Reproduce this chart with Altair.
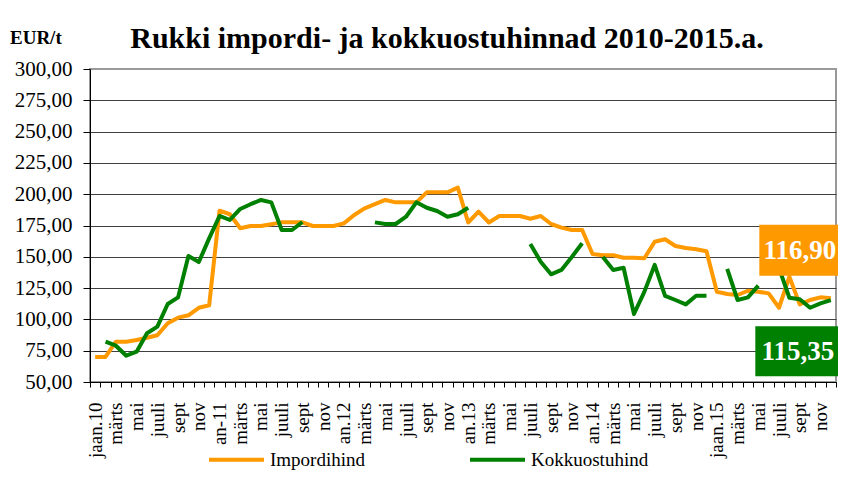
import json
import altair as alt
import pandas as pd

# ---------------- data ----------------
months = list(range(72))  # jaan.2010 ... dets.2015
tick_labels = [
    "jaan.10", "", "märts", "", "mai", "", "juuli", "", "sept", "", "nov", "",
    "an-11", "", "märts", "", "mai", "", "juuli", "", "sept", "", "nov", "",
    "an.12", "", "märts", "", "mai", "", "juuli", "", "sept", "", "nov", "",
    "an.13", "", "märts", "", "mai", "", "juuli", "", "sept", "", "nov", "",
    "an.14", "", "märts", "", "mai", "", "juuli", "", "sept", "", "nov", "",
    "jaan.15", "", "märts", "", "mai", "", "juuli", "", "sept", "", "nov", "",
]
series_names = ["Impordihind", "Kokkuostuhind"]
series_colors = ["#FF9900", "#008000"]

impordihind = [
    70, 70, 82.2, 82.2, 83.5, 85.4, 87.3, 96.9, 101.4, 103.3, 109.3, 111.3,
    186.8, 184, 172.8, 174.6, 174.6, 176, 177.5, 177.5, 177.5, 174.6, 174.6, 174.6,
    176.7, 183.4, 188.7, 192, 195.4, 193.5, 193.5, 193.5, 201.5, 201.5, 201.5, 205.2,
    177.4, 186, 177.4, 182.6, 182.6, 182.6, 180.4, 182.6, 176.2, 173.3, 171.4, 171.4,
    152.2, 151.2, 151.2, 149.3, 149.3, 148.8, 162, 164, 158.6, 157, 156, 154.4,
    122.1, 120.3, 119.5, 122.9, 122.1, 120.8, 109.3, 134.1, 112, 115.5, 117.6, 116.90,
]
kokkuostuhind = [
    None, 82.2, 79, 71, 74.2, 88.9, 94.2, 112.3, 117.6, 150.6, 145.8, 164.7,
    182.6, 179.4, 188.2, 192, 195.4, 193.5, 171.4, 171.4, 177.8, None, None, None,
    None, None, None, 177.5, 176.2, 176.2, 182, 193.5, 189.2, 186.6, 182, 184,
    189.2, None, None, None, None, None, 160.2, 146.1, 136, 139.5, 149.8, 160.8,
    None, 149.8, 139.5, 141.3, 104.3, 122, 143.5, 118.7, 115.5, 112, 118.9, 118.9,
    None, 140.3, 115.5, 117.6, 127, None, 141, 117.3, 116.1, 109.3, 112.8, 115.35,
]

y_ticks = [50, 75, 100, 125, 150, 175, 200, 225, 250, 275, 300]
title_text = "Rukki impordi- ja kokkuostuhinnad 2010-2015.a."
unit_text = "EUR/t"

# ---------------- build table ----------------
rows = []
for name, vals in zip(series_names, [impordihind, kokkuostuhind]):
    seg = 0
    gap = True
    for i, v in enumerate(vals):
        if v is None:
            gap = True
            continue
        if gap:
            seg += 1
            gap = False
        rows.append({"m": months[i], "v": v, "s": name, "seg": f"{name}-{seg}"})
df = pd.DataFrame(rows)

FONT = "Liberation Serif"
label_expr = json.dumps(tick_labels, ensure_ascii=False) + "[datum.value]"

x_axis = alt.Axis(
    title=None,
    labelExpr=label_expr,
    labelAngle=270,
    labelAlign="right",
    labelBaseline="middle",
    labelFont=FONT,
    labelFontSize=19,
    labelColor="black",
    labelPadding=15,
    labelOverlap=False,
    tickBand="extent",
    tickSize=5,
    tickColor="black",
    domainColor="black",
    grid=False,
)
y_axis = alt.Axis(
    values=y_ticks,
    labelExpr="replace(format(datum.value, '.2f'), '.', ',')",
    labelFont=FONT,
    labelFontSize=21,
    labelColor="black",
    labelPadding=11,
    labelOverlap=False,
    labelFlush=False,
    tickSize=7,
    tickColor="black",
    domainColor="black",
    grid=True,
    gridColor={"condition": {"test": "datum.value === 300", "value": "#9a9a9a"}, "value": "#404040"},
    title=None,
)
x_scale = alt.Scale(type="band", domain=months, paddingInner=0, paddingOuter=0)
y_scale = alt.Scale(domain=[50, 300], nice=False, zero=False)


def xe():
    return alt.X("m:O", bandPosition=0.5, scale=x_scale, axis=x_axis)


def ye():
    return alt.Y("v:Q", scale=y_scale, axis=y_axis)


lines = alt.Chart(df).mark_line(strokeWidth=4, strokeJoin="round").encode(
    x=xe(),
    y=ye(),
    color=alt.Color(
        "s:N",
        scale=alt.Scale(domain=series_names, range=series_colors),
        legend=alt.Legend(
            title=None,
            orient="none",
            legendX=117,
            legendY=361,
            direction="horizontal",
            symbolType="stroke",
            symbolSize=3025,
            symbolStrokeWidth=4,
            labelFont=FONT,
            labelFontSize=19,
            labelColor="black",
            labelOffset=4,
            columnPadding=97,
            padding=0,
        ),
    ),
    detail="seg:N",
)


def end_label(value, color, width, height, dx, dy):
    txt = f"{value:.2f}".replace(".", ",")
    d = pd.DataFrame({"m": [months[-1]], "v": [value], "t": [txt]})
    h = height / width
    path = f"M-1,-{h:.4f}L1,-{h:.4f}L1,{h:.4f}L-1,{h:.4f}Z"
    box = alt.Chart(d).mark_point(
        shape=path, size=width * width, filled=True, color=color,
        opacity=1, strokeWidth=0, xOffset=dx, yOffset=dy,
    ).encode(x=xe(), y=ye())
    text = alt.Chart(d).mark_text(
        font=FONT, fontSize=27, fontWeight="bold", color="white",
        align="center", baseline="middle", dx=dx, dy=dy + 1,
    ).encode(x=xe(), y=ye(), text="t:N")
    return box + text


lab_o = end_label(impordihind[-1], series_colors[0], 81, 51, -31, -48)
lab_g = end_label(kokkuostuhind[-1], series_colors[1], 85, 50, -33, 51)

# chart title and unit label (text annotations outside the plot area)
title_mark = alt.Chart(pd.DataFrame({"t": [title_text]})).mark_text(
    font=FONT, fontSize=30, fontWeight="bold", color="black",
    align="center", baseline="alphabetic",
).encode(x=alt.value(357), y=alt.value(-21), text="t:N")
unit_mark = alt.Chart(pd.DataFrame({"t": [unit_text]})).mark_text(
    font=FONT, fontSize=19, fontWeight="bold", color="black",
    align="left", baseline="alphabetic",
).encode(x=alt.value(-80), y=alt.value(-25), text="t:N")

chart = (
    alt.layer(lines, lab_o, lab_g, title_mark, unit_mark)
    .properties(
        width=746,
        height=313,
        padding={"left": 82, "top": 61, "right": 2, "bottom": 90},
        autosize=alt.AutoSizeParams(type="none"),
        background="white",
    )
    .configure_view(stroke="#999999", strokeWidth=2)
)

chart.save("out.html", embed_options={"renderer": "svg", "actions": False})
